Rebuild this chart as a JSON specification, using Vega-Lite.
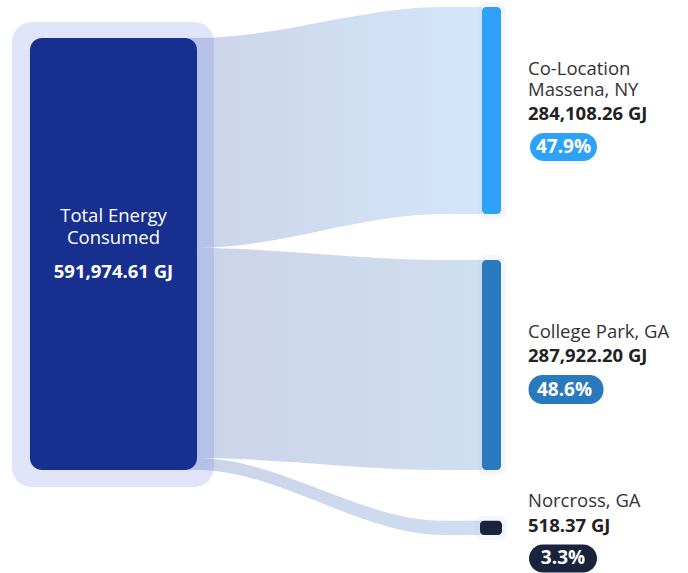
{
  "$schema": "https://vega.github.io/schema/vega-lite/v6.json",
  "width": 688,
  "height": 573,
  "autosize": {"type": "fit", "contains": "padding"},
  "padding": 0,
  "background": "#ffffff",
  "config": {"view": {"stroke": null}, "text": {"font": "Open Sans"}},
  "datasets": {
    "nodes": [
      {"node": "Total Energy Consumed", "role": "source", "x0": -0.586, "x1": 0, "y0": 0, "y1": 591974.61},
      {"node": "Co-Location Massena, NY", "role": "target", "x0": 1.0, "x1": 1.0667, "y0": -42480, "y1": 241076},
      {"node": "College Park, GA", "role": "target", "x0": 1.0, "x1": 1.0667, "y0": 304209, "y1": 591909},
      {"node": "Norcross, GA", "role": "target", "x0": 0.993, "x1": 1.0702, "y0": 661449, "y1": 680984}
    ],
    "links": [
      {"link": "Co-Location Massena, NY", "s": -0.03, "y0": 0, "y1": 287765},
      {"link": "Co-Location Massena, NY", "s": 0, "y0": 0, "y1": 287765},
      {"link": "Co-Location Massena, NY", "s": 0.863, "y0": -42480, "y1": 241076},
      {"link": "Co-Location Massena, NY", "s": 1, "y0": -42480, "y1": 241076},
      {"link": "College Park, GA", "s": -0.03, "y0": 287765, "y1": 575530},
      {"link": "College Park, GA", "s": 0, "y0": 287765, "y1": 575530},
      {"link": "College Park, GA", "s": 0.863, "y0": 304209, "y1": 591909},
      {"link": "College Park, GA", "s": 1, "y0": 304209, "y1": 591909},
      {"link": "Norcross, GA", "s": -0.03, "y0": 575530, "y1": 591974.61},
      {"link": "Norcross, GA", "s": 0, "y0": 575530, "y1": 591974.61},
      {"link": "Norcross, GA", "s": 0.863, "y0": 661449, "y1": 680984},
      {"link": "Norcross, GA", "s": 1, "y0": 661449, "y1": 680984}
    ],
    "labels": [
      {"node": "Total Energy Consumed", "kind": "source-name", "text": "Total Energy\nConsumed", "x": -0.293, "y": 251726},
      {"node": "Total Energy Consumed", "kind": "source-value", "text": "591,974.61 GJ", "x": -0.293, "y": 328874},
      {"node": "Co-Location Massena, NY", "kind": "name", "text": "Co-Location\nMassena, NY", "x": 1.1614, "y": 50701},
      {"node": "Co-Location Massena, NY", "kind": "value", "text": "284,108.26 GJ", "x": 1.1614, "y": 112365},
      {"node": "College Park, GA", "kind": "name", "text": "College Park, GA", "x": 1.1614, "y": 411093},
      {"node": "College Park, GA", "kind": "value", "text": "287,922.20 GJ", "x": 1.1614, "y": 443980},
      {"node": "Norcross, GA", "kind": "name", "text": "Norcross, GA", "x": 1.1614, "y": 642675},
      {"node": "Norcross, GA", "kind": "value", "text": "518.37 GJ", "x": 1.1614, "y": 676933}
    ],
    "badges": [
      {"node": "Co-Location Massena, NY", "pct": "47.9%", "x0": 1.1684, "x1": 1.4035, "y0": 130179, "y1": 168548, "xc": 1.286, "ty": 149364},
      {"node": "College Park, GA", "pct": "48.6%", "x0": 1.1632, "x1": 1.4263, "y0": 461794, "y1": 501533, "xc": 1.2895, "ty": 481664},
      {"node": "Norcross, GA", "pct": "3.3%", "x0": 1.1649, "x1": 1.4035, "y0": 694062, "y1": 732431, "xc": 1.2842, "ty": 713246}
    ]
  },
  "layer": [
    {
      "data": {"name": "links"},
      "transform": [{"filter": "datum.link === 'Co-Location Massena, NY'"}],
      "mark": {"type": "area", "interpolate": "monotone", "color": {"gradient": "linear", "x1": 0, "x2": 1, "y1": 0, "y2": 0, "stops": [{"offset": 0, "color": "#ccd3e8"}, {"offset": 1, "color": "#d3e7fa"}]}},
      "encoding": {
        "x": {"field": "s", "type": "quantitative", "scale": {"domain": [-0.6912, 1.7228], "nice": false, "zero": false}, "axis": null},
        "y": {"field": "y0", "type": "quantitative", "scale": {"domain": [-52072, 733116], "nice": false, "zero": false, "reverse": true}, "axis": null},
        "y2": {"field": "y1"}
      }
    },
    {
      "data": {"name": "links"},
      "transform": [{"filter": "datum.link === 'College Park, GA'"}],
      "mark": {"type": "area", "interpolate": "monotone", "color": {"gradient": "linear", "x1": 0, "x2": 1, "y1": 0, "y2": 0, "stops": [{"offset": 0, "color": "#ccd3e8"}, {"offset": 1, "color": "#cfdff0"}]}},
      "encoding": {
        "x": {"field": "s", "type": "quantitative", "axis": null},
        "y": {"field": "y0", "type": "quantitative", "axis": null},
        "y2": {"field": "y1"}
      }
    },
    {
      "data": {"name": "links"},
      "transform": [{"filter": "datum.link === 'Norcross, GA'"}],
      "mark": {"type": "area", "interpolate": "monotone", "color": {"gradient": "linear", "x1": 0, "x2": 1, "y1": 0, "y2": 0, "stops": [{"offset": 0, "color": "#ccd3e8"}, {"offset": 1, "color": "#cfdef0"}]}},
      "encoding": {
        "x": {"field": "s", "type": "quantitative", "axis": null},
        "y": {"field": "y0", "type": "quantitative", "axis": null},
        "y2": {"field": "y1"}
      }
    },
    {
      "data": {"name": "nodes"},
      "transform": [{"filter": "datum.role === 'source'"}],
      "mark": {"type": "rect", "color": "#4a64e0", "opacity": 0.17, "cornerRadius": 20, "xOffset": -18, "x2Offset": 17, "yOffset": -16, "y2Offset": 17},
      "encoding": {
        "x": {"field": "x0", "type": "quantitative", "axis": null},
        "x2": {"field": "x1"},
        "y": {"field": "y0", "type": "quantitative", "axis": null},
        "y2": {"field": "y1"}
      }
    },
    {
      "data": {"name": "nodes"},
      "transform": [{"filter": "datum.role === 'target'"}],
      "mark": {"type": "rect", "color": "#c8cff0", "opacity": 0.18, "cornerRadius": 8, "xOffset": -5, "x2Offset": 5, "yOffset": -5, "y2Offset": 5},
      "encoding": {
        "x": {"field": "x0", "type": "quantitative", "axis": null},
        "x2": {"field": "x1"},
        "y": {"field": "y0", "type": "quantitative", "axis": null},
        "y2": {"field": "y1"}
      }
    },
    {
      "data": {"name": "nodes"},
      "transform": [{"filter": "datum.role === 'source'"}],
      "mark": {"type": "rect", "cornerRadius": 12},
      "encoding": {
        "x": {"field": "x0", "type": "quantitative", "axis": null},
        "x2": {"field": "x1"},
        "y": {"field": "y0", "type": "quantitative", "axis": null},
        "y2": {"field": "y1"},
        "color": {"field": "node", "type": "nominal", "legend": null, "scale": {"domain": ["Total Energy Consumed", "Co-Location Massena, NY", "College Park, GA", "Norcross, GA"], "range": ["#17308f", "#2ea2f8", "#2879bd", "#1a233c"]}}
      }
    },
    {
      "data": {"name": "nodes"},
      "transform": [{"filter": "datum.role === 'target'"}],
      "mark": {"type": "rect", "cornerRadius": 4},
      "encoding": {
        "x": {"field": "x0", "type": "quantitative", "axis": null},
        "x2": {"field": "x1"},
        "y": {"field": "y0", "type": "quantitative", "axis": null},
        "y2": {"field": "y1"},
        "color": {"field": "node", "type": "nominal", "legend": null}
      }
    },
    {
      "data": {"name": "labels"},
      "transform": [{"filter": "datum.kind === 'source-name'"}],
      "mark": {"type": "text", "font": "Open Sans", "fontSize": 18.5, "lineBreak": "\n", "lineHeight": 22, "color": "#ffffff", "align": "center", "baseline": "alphabetic"},
      "encoding": {
        "x": {"field": "x", "type": "quantitative", "axis": null},
        "y": {"field": "y", "type": "quantitative", "axis": null},
        "text": {"field": "text"}
      }
    },
    {
      "data": {"name": "labels"},
      "transform": [{"filter": "datum.kind === 'source-value'"}],
      "mark": {"type": "text", "font": "Open Sans", "fontSize": 18.5, "fontWeight": "bold", "color": "#ffffff", "align": "center", "baseline": "alphabetic"},
      "encoding": {
        "x": {"field": "x", "type": "quantitative", "axis": null},
        "y": {"field": "y", "type": "quantitative", "axis": null},
        "text": {"field": "text"}
      }
    },
    {
      "data": {"name": "labels"},
      "transform": [{"filter": "datum.kind === 'name'"}],
      "mark": {"type": "text", "font": "Open Sans", "fontSize": 18.5, "lineBreak": "\n", "lineHeight": 21, "color": "#333333", "align": "left", "baseline": "alphabetic"},
      "encoding": {
        "x": {"field": "x", "type": "quantitative", "axis": null},
        "y": {"field": "y", "type": "quantitative", "axis": null},
        "text": {"field": "text"}
      }
    },
    {
      "data": {"name": "labels"},
      "transform": [{"filter": "datum.kind === 'value'"}],
      "mark": {"type": "text", "font": "Open Sans", "fontSize": 18.5, "fontWeight": "bold", "color": "#222222", "align": "left", "baseline": "alphabetic"},
      "encoding": {
        "x": {"field": "x", "type": "quantitative", "axis": null},
        "y": {"field": "y", "type": "quantitative", "axis": null},
        "text": {"field": "text"}
      }
    },
    {
      "data": {"name": "badges"},
      "mark": {"type": "rect", "cornerRadius": 14},
      "encoding": {
        "x": {"field": "x0", "type": "quantitative", "axis": null},
        "x2": {"field": "x1"},
        "y": {"field": "y0", "type": "quantitative", "axis": null},
        "y2": {"field": "y1"},
        "color": {"field": "node", "type": "nominal", "legend": null}
      }
    },
    {
      "data": {"name": "badges"},
      "mark": {"type": "text", "font": "Open Sans", "fontSize": 19, "fontWeight": "bold", "color": "#ffffff", "align": "center", "baseline": "middle"},
      "encoding": {
        "x": {"field": "xc", "type": "quantitative", "axis": null},
        "y": {"field": "ty", "type": "quantitative", "axis": null},
        "text": {"field": "pct"}
      }
    }
  ]
}
